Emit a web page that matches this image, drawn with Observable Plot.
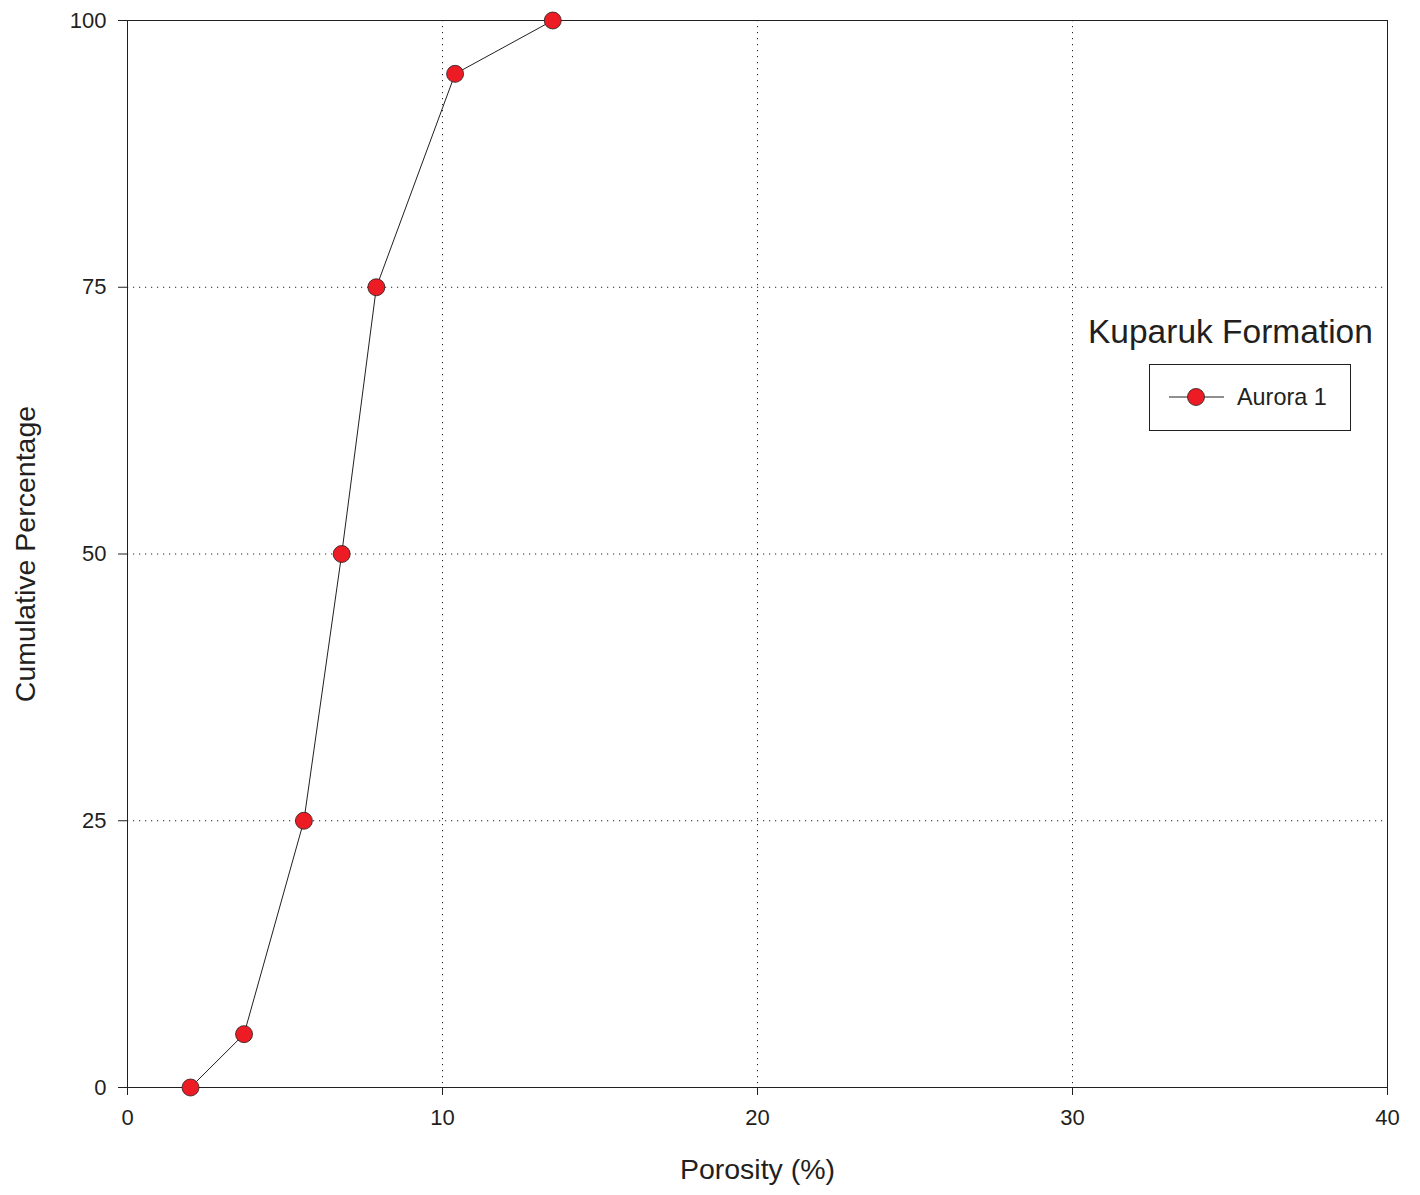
<!DOCTYPE html>
<html>
<head>
<meta charset="utf-8">
<script src="https://cdn.jsdelivr.net/npm/d3@7"></script>
<script src="https://cdn.jsdelivr.net/npm/@observablehq/plot@0.6"></script>
<style>
  html, body { margin: 0; padding: 0; background: #fff; }
  #wrap { position: relative; width: 1420px; height: 1195px; font-family: "Liberation Sans", Arial, sans-serif; color: #231f20; }
  #legend-title { position: absolute; left: 1088px; top: 315px; font-size: 33.5px; line-height: 1; white-space: nowrap; }
  #legend-box { position: absolute; left: 1149px; top: 364px; width: 202px; height: 67px; border: 1px solid #231f20; box-sizing: border-box; }
  #legend-box svg { position: absolute; left: 18px; top: 19px; }
  #legend-box span { position: absolute; left: 87px; top: 21px; font-size: 23.4px; line-height: 1; white-space: nowrap; }
</style>
</head>
<body>
<div id="wrap">
  <div id="chart"></div>
  <div id="legend-title">Kuparuk Formation</div>
  <div id="legend-box">
    <svg width="58" height="26"><line x1="1" x2="56" y1="13" y2="13" stroke="#231f20" stroke-width="1"/><circle cx="28" cy="13" r="8.5" fill="#ed1c24" stroke="#231f20" stroke-width="0.8"/></svg>
    <span>Aurora 1</span>
  </div>
</div>
<script>
// Cumulative porosity distribution, Aurora 1 well, Kuparuk Formation
const porosity = [2.0, 3.7, 5.6, 6.8, 7.9, 10.4, 13.5];
const cumulative = [0, 5, 25, 50, 75, 95, 100];
const xTicks = [0, 10, 20, 30, 40];
const yTicks = [0, 25, 50, 75, 100];
const xGrid = [10, 20, 30];
const yGrid = [25, 50, 75];

const data = porosity.map((p, i) => ({porosity: p, cumulative: cumulative[i]}));
const ink = "#231f20";

const chart = Plot.plot({
  width: 1420,
  height: 1195,
  marginLeft: 127,
  marginRight: 33,
  marginTop: 20,
  marginBottom: 108,
  style: {fontFamily: "Liberation Sans, Arial, sans-serif", color: ink, background: "#fff", fontSize: "22px"},
  x: {domain: [0, 40]},
  y: {domain: [0, 100]},
  marks: [
    Plot.ruleX(xGrid, {stroke: ink, strokeWidth: 1, strokeDasharray: "1.2,4.8"}),
    Plot.ruleY(yGrid, {stroke: ink, strokeWidth: 1, strokeDasharray: "1.2,4.8"}),
    Plot.axisX({ticks: xTicks, tickSize: 8, tickPadding: 14, fontSize: 22, label: null, stroke: ink}),
    Plot.axisY({ticks: yTicks, tickSize: 9, tickPadding: 12, fontSize: 22, label: null, stroke: ink}),
    Plot.text(["Porosity (%)"], {frameAnchor: "bottom", dy: 91, fontSize: 28.5, fill: ink}),
    Plot.text(["Cumulative Percentage"], {frameAnchor: "left", dx: -102, rotate: -90, textAnchor: "middle", fontSize: 28.5, fill: ink}),
    Plot.frame({stroke: ink, strokeWidth: 1}),
    Plot.line(data, {x: "porosity", y: "cumulative", stroke: ink, strokeWidth: 1}),
    Plot.dot(data, {x: "porosity", y: "cumulative", r: 8.5, fill: "#ed1c24", stroke: ink, strokeWidth: 0.8})
  ]
});
document.getElementById("chart").appendChild(chart);
</script>
</body>
</html>
